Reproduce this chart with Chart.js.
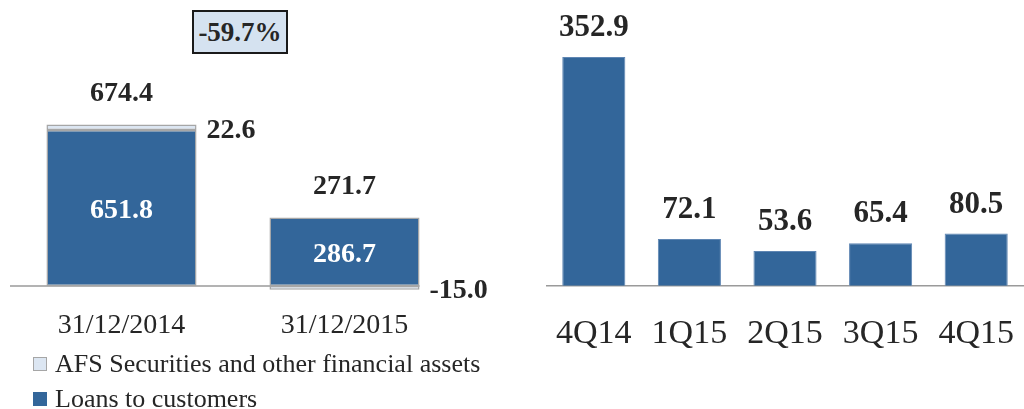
<!DOCTYPE html>
<html>
<head>
<meta charset="utf-8">
<title>Loans and AFS</title>
<script src="https://cdn.jsdelivr.net/npm/chart.js@4.4.1/dist/chart.umd.min.js"></script>
<style>
  html, body { margin: 0; padding: 0; background: #fff; }
  #page {
    position: relative; width: 1024px; height: 409px; overflow: hidden;
    font-family: "Liberation Serif", serif; color: #262626;
  }
  #leftWrap { position: absolute; left: 0; top: 0; width: 500px; height: 350px; }
  #rightWrap { position: absolute; left: 520px; top: 0; width: 504px; height: 364px; }
  #changeBox {
    position: absolute; left: 192px; top: 10px; width: 96px; height: 44px;
    box-sizing: border-box; border: 2px solid #1a1a1a; background: #d5e2f0;
    display: flex; align-items: center; justify-content: center;
    font-weight: bold; font-size: 27px;
  }
  #legend { position: absolute; left: 33px; top: 346px; margin: 0; padding: 0; list-style: none; }
  #legend li { display: flex; align-items: center; height: 35.5px; font-size: 26px; white-space: nowrap; }
  #legend .swatch {
    display: inline-block; width: 14px; height: 14px; box-sizing: border-box;
    border: 1px solid #a6a6a6; margin-right: 8px;
  }
</style>
</head>
<body>
<div id="page">
  <div id="leftWrap"><canvas id="stockChart"></canvas></div>
  <div id="rightWrap"><canvas id="quarterChart"></canvas></div>
  <div id="changeBox"></div>
  <ul id="legend"></ul>
</div>
<script>
  "use strict";

  const stockLabels = ["31/12/2014", "31/12/2015"];
  const loansValues = [651.8, 286.7];
  const afsValues = [22.6, -15.0];
  const stockTotals = [674.4, 271.7];
  const changeLabel = "-59.7%";

  const quarterLabels = ["4Q14", "1Q15", "2Q15", "3Q15", "4Q15"];
  const quarterValues = [352.9, 72.1, 53.6, 65.4, 80.5];

  const BLUE = "#33669a";
  const LIGHT = "#dce6f2";
  const EDGE = "#a6a6a6";
  const TEXT = "#262626";
  const SERIF = "'Liberation Serif', serif";

  document.getElementById("changeBox").textContent = changeLabel;

  // axis line at zero, drawn under the bars
  function zeroLine(endAtLastBar) {
    return {
      id: "zeroLine",
      beforeDatasetsDraw(chart) {
        const {ctx, chartArea} = chart;
        const y = chart.scales.y.getPixelForValue(0);
        let right = chartArea.right;
        if (endAtLastBar) {
          const bars = chart.getDatasetMeta(0).data;
          const last = bars[bars.length - 1];
          right = last.x + last.width / 2;
        }
        ctx.save();
        ctx.strokeStyle = "#9a9a9a";
        ctx.lineWidth = 1.5;
        ctx.beginPath();
        ctx.moveTo(chartArea.left, y);
        ctx.lineTo(right, y);
        ctx.stroke();
        ctx.restore();
      },
    };
  }

  const stockLabelsPlugin = {
    id: "stockLabels",
    afterDatasetsDraw(chart) {
      const ctx = chart.ctx;
      const loansBars = chart.getDatasetMeta(0).data;
      const afsBars = chart.getDatasetMeta(1).data;
      ctx.save();
      ctx.textBaseline = "middle";
      ctx.font = "bold 28px " + SERIF;
      loansBars.forEach((bar, i) => {
        const afs = afsBars[i];
        ctx.fillStyle = "#ffffff";
        ctx.textAlign = "center";
        ctx.fillText(loansValues[i].toFixed(1), bar.x, (bar.y + bar.base) / 2 + 3);

        const top = Math.min(bar.y, bar.base, afs.y, afs.base);
        ctx.fillStyle = TEXT;
        ctx.fillText(stockTotals[i].toFixed(1), bar.x, top - 31);

        ctx.textAlign = "left";
        ctx.fillText(afsValues[i].toFixed(1), bar.x + bar.width / 2 + 10, (afs.y + afs.base) / 2 + 3);
      });
      ctx.restore();
    },
  };

  const quarterLabelsPlugin = {
    id: "quarterLabels",
    afterDatasetsDraw(chart) {
      const ctx = chart.ctx;
      ctx.save();
      ctx.textBaseline = "middle";
      ctx.textAlign = "center";
      ctx.font = "bold 31px " + SERIF;
      ctx.fillStyle = TEXT;
      chart.getDatasetMeta(0).data.forEach((bar, i) => {
        ctx.fillText(quarterValues[i].toFixed(1), bar.x, bar.y - 29);
      });
      ctx.restore();
    },
  };

  const htmlLegend = {
    id: "htmlLegend",
    afterUpdate(chart) {
      const list = document.getElementById("legend");
      list.innerHTML = "";
      const items = chart.options.plugins.legend.labels.generateLabels(chart).reverse();
      items.forEach((item) => {
        const li = document.createElement("li");
        const box = document.createElement("span");
        box.className = "swatch";
        box.style.background = item.fillStyle;
        box.style.borderColor = item.fillStyle === BLUE ? BLUE : EDGE;
        const text = document.createElement("span");
        text.textContent = item.text;
        li.append(box, text);
        list.appendChild(li);
      });
    },
  };

  const commonOptions = {
    responsive: true,
    maintainAspectRatio: false,
    animation: false,
    events: [],
    plugins: {
      legend: {display: false},
      tooltip: {enabled: false},
    },
  };

  new Chart(document.getElementById("stockChart"), {
    type: "bar",
    data: {
      labels: stockLabels,
      datasets: [
        {
          label: "Loans to customers",
          data: loansValues,
          backgroundColor: BLUE,
          borderColor: EDGE,
          borderWidth: 1.5,
          borderSkipped: false,
        },
        {
          label: "AFS Securities and other financial assets",
          data: afsValues,
          backgroundColor: LIGHT,
          borderColor: EDGE,
          borderWidth: 1.5,
          borderSkipped: false,
        },
      ],
    },
    options: {
      ...commonOptions,
      layout: {padding: {left: 10, right: 44, top: 0, bottom: 0}},
      datasets: {bar: {categoryPercentage: 1, barPercentage: 0.673}},
      scales: {
        x: {
          stacked: true,
          grid: {display: false, drawTicks: false},
          border: {display: false},
          ticks: {color: TEXT, padding: 8, font: {family: SERIF, size: 28}},
        },
        y: {stacked: true, display: false, min: -60, max: 1195},
      },
    },
    plugins: [zeroLine(true), stockLabelsPlugin, htmlLegend],
  });

  new Chart(document.getElementById("quarterChart"), {
    type: "bar",
    data: {
      labels: quarterLabels,
      datasets: [
        {
          label: "Quarterly",
          data: quarterValues,
          backgroundColor: BLUE,
          borderColor: "#5f86b3",
          borderWidth: 1,
          borderSkipped: "start",
        },
      ],
    },
    options: {
      ...commonOptions,
      layout: {padding: {left: 26, right: 0, top: 0, bottom: 0}},
      datasets: {bar: {categoryPercentage: 1, barPercentage: 0.66}},
      scales: {
        x: {
          grid: {display: false, drawTicks: false},
          border: {display: false},
          ticks: {color: TEXT, padding: 10, font: {family: SERIF, size: 34}},
        },
        y: {display: false, min: -27, max: 441},
      },
    },
    plugins: [zeroLine(false), quarterLabelsPlugin],
  });
</script>
</body>
</html>
